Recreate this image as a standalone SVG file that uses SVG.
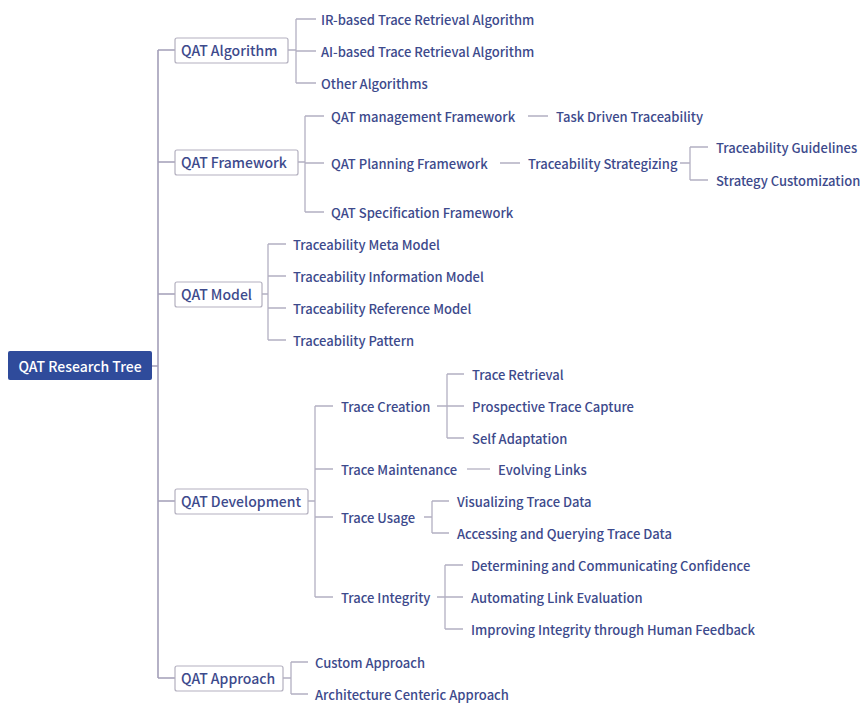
<svg xmlns="http://www.w3.org/2000/svg" width="864" height="703" viewBox="0 0 864 703">
<style>
text{font-family:"Noto Sans CJK SC","Noto Sans",sans-serif;font-weight:500;fill:#3d4a8c;dominant-baseline:central}
.t{font-size:13px}
.b{font-size:14px}
.r{font-size:14px;fill:#ffffff}
.box{fill:#ffffff;stroke:#b3b0bf;stroke-width:1.2}
.root{fill:#2f4b9b}
.c{fill:none;stroke:#b3b0c2;stroke-width:1.3}
.tr{fill:none;stroke:#a39fb8;stroke-width:1.6}
</style>
<rect width="864" height="703" fill="#ffffff"/>
<g id="connectors">
<path class="tr" d="M152 366H158M158 50V678M158 50H175M158 162H175M158 294H175M158 501H175M158 678H175"/>
<path class="c" d="M288 50H296M296 19V83M296 19H316M296 51H316M296 83H316"/>
<path class="c" d="M298 162H305M305 116V212M305 116H324M305 163H324M305 212H324"/>
<path class="c" d="M528 116H548M500 163H520"/>
<path class="c" d="M680 163H690M690 147V180M690 147H708M690 180H708"/>
<path class="c" d="M262 294H268M268 244V340M268 244H286M268 276H286M268 308H286M268 340H286"/>
<path class="c" d="M308 501H315M315 406V597M315 406H333M315 469H333M315 517H333M315 597H333"/>
<path class="c" d="M437 406H447M447 374V438M447 374H464M447 406H464M447 438H464"/>
<path class="c" d="M467 469H490"/>
<path class="c" d="M424 517H432M432 501V533M432 501H449M432 533H449"/>
<path class="c" d="M437 597H445M445 565V629M445 565H463M445 597H463M445 629H463"/>
<path class="c" d="M283 678H291M291 662V694M291 662H308M291 694H308"/>
</g>
<g id="root"><rect class="root" x="8" y="351" width="144" height="29" rx="2"/><text class="r" x="80" y="366" text-anchor="middle">QAT Research Tree</text></g>
<g id="algorithm"><rect class="box" x="175" y="38" width="113" height="25" rx="2"/><text class="b" x="181" y="50">QAT Algorithm</text></g>
<g id="framework"><rect class="box" x="175" y="150" width="123" height="25" rx="2"/><text class="b" x="181" y="162">QAT Framework</text></g>
<g id="model"><rect class="box" x="175" y="282" width="87" height="25" rx="2"/><text class="b" x="181" y="294">QAT Model</text></g>
<g id="development"><rect class="box" x="175" y="489" width="133" height="25" rx="2"/><text class="b" x="181" y="501">QAT Development</text></g>
<g id="approach"><rect class="box" x="175" y="666" width="108" height="25" rx="2"/><text class="b" x="181" y="678">QAT Approach</text></g>
<g id="alg-children">
<text class="t" x="321" y="19">IR-based Trace Retrieval Algorithm</text>
<text class="t" x="321" y="51">AI-based Trace Retrieval Algorithm</text>
<text class="t" x="321" y="83">Other Algorithms</text>
</g>
<g id="fw-children">
<text class="t" x="331" y="116">QAT management Framework</text>
<text class="t" x="556" y="116">Task Driven Traceability</text>
<text class="t" x="331" y="163">QAT Planning Framework</text>
<text class="t" x="528" y="163">Traceability Strategizing</text>
<text class="t" x="716" y="147">Traceability Guidelines</text>
<text class="t" x="716" y="180">Strategy Customization</text>
<text class="t" x="331" y="212">QAT Specification Framework</text>
</g>
<g id="model-children">
<text class="t" x="293" y="244">Traceability Meta Model</text>
<text class="t" x="293" y="276">Traceability Information Model</text>
<text class="t" x="293" y="308">Traceability Reference Model</text>
<text class="t" x="293" y="340">Traceability Pattern</text>
</g>
<g id="dev-children">
<text class="t" x="341" y="406">Trace Creation</text>
<text class="t" x="472" y="374">Trace Retrieval</text>
<text class="t" x="472" y="406">Prospective Trace Capture</text>
<text class="t" x="472" y="438">Self Adaptation</text>
<text class="t" x="341" y="469">Trace Maintenance</text>
<text class="t" x="498" y="469">Evolving Links</text>
<text class="t" x="341" y="517">Trace Usage</text>
<text class="t" x="457" y="501">Visualizing Trace Data</text>
<text class="t" x="457" y="533">Accessing and Querying Trace Data</text>
<text class="t" x="341" y="597">Trace Integrity</text>
<text class="t" x="471" y="565">Determining and Communicating Confidence</text>
<text class="t" x="471" y="597">Automating Link Evaluation</text>
<text class="t" x="471" y="629">Improving Integrity through Human Feedback</text>
</g>
<g id="approach-children">
<text class="t" x="315" y="662">Custom Approach</text>
<text class="t" x="315" y="694">Architecture Centeric Approach</text>
</g>
</svg>
